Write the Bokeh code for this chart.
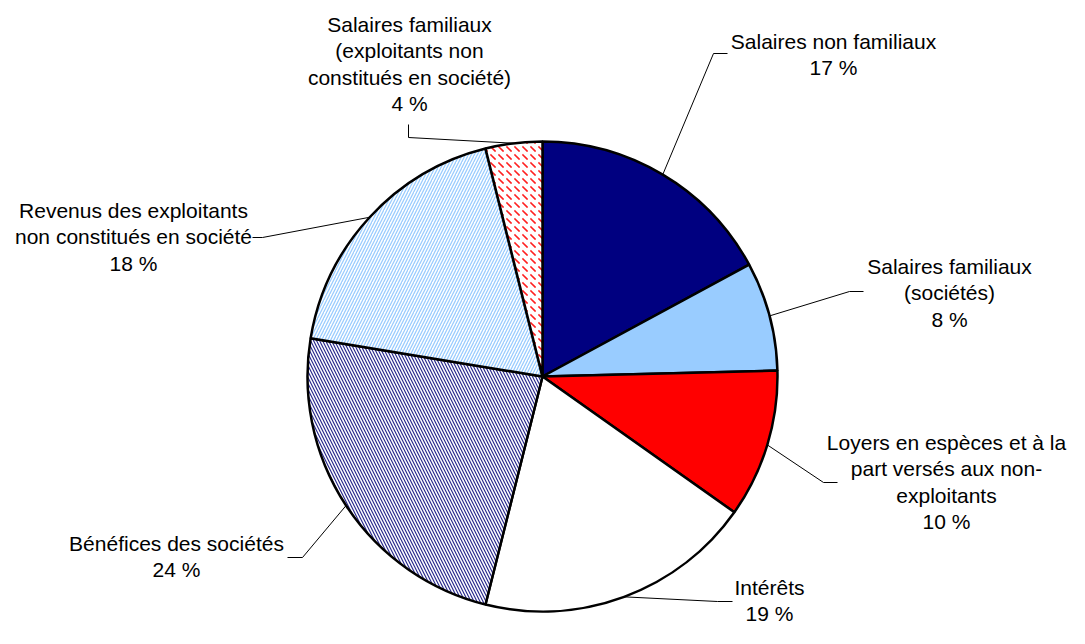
import math
from bokeh.plotting import figure
from bokeh.models import Range1d, ColumnDataSource
from bokeh.core.properties import value
from bokeh.embed import file_html
from bokeh.resources import INLINE

# ---- data (clockwise from 12 o'clock) ----
categories = [
    "Salaires non familiaux",
    "Salaires familiaux\n(sociétés)",
    "Loyers en espèces et à la\npart versés aux non-\nexploitants",
    "Intérêts",
    "Bénéfices des sociétés",
    "Revenus des exploitants\nnon constitués en société",
    "Salaires familiaux\n(exploitants non\nconstitués en société)",
]
shares = [17.1, 7.5, 10.2, 19.1, 23.7, 18.5, 3.9]
pct_labels = ["17 %", "8 %", "10 %", "19 %", "24 %", "18 %", "4 %"]

fill_colors = ["#000080", "#99CCFF", "#FF0000", "#FFFFFF", "#FFFFFF", "#FFFFFF", "#FFFFFF"]
hatch_patterns = [" ", " ", " ", " ", "\\", "/", "`"]
hatch_colors = ["#000080", "#99CCFF", "#FF0000", "#FFFFFF", "#2B2B8F", "#99CCFF", "#FF2020"]
hatch_scales = [6, 6, 6, 6, 6, 6, 8]
hatch_weights = [1.2, 1.2, 1.2, 1.2, 1.2, 1.3, 1.6]

# ---- layout (picture pixel coordinates; y is negated for data space) ----
W, H = 1069, 628
CX, CY, R = 542, 376, 235
FONT = "Liberation Sans"
FS = 21
LH = 26.4

# label block: centre x, first-line centre y
label_pos = [(833, 41), (949, 266), (946, 442), (769, 587), (176, 543), (133, 210), (409, 24)]
# leader: elbow point, end point
leaders = [
    ((713, 53), (727, 53)),
    ((849, 291), (863, 291)),
    ((823, 482), (837, 482)),
    ((717, 601), (732, 601)),
    ((302, 557), (287, 557)),
    ((262, 237), (252, 237)),
    ((408, 137), (408, 124)),
]

p = figure(width=W, height=H, output_backend="svg", toolbar_location=None,
           x_range=Range1d(0, W), y_range=Range1d(-H, 0),
           min_border=0, outline_line_color=None)
p.axis.visible = False
p.grid.visible = False
p.background_fill_color = "white"
p.border_fill_color = "white"

total = sum(shares)
cum = [0.0]
for s in shares:
    cum.append(cum[-1] + s)
starts = [math.pi / 2 - 2 * math.pi * cum[i + 1] / total for i in range(len(shares))]
ends = [math.pi / 2 - 2 * math.pi * cum[i] / total for i in range(len(shares))]

src = ColumnDataSource(dict(start=starts, end=ends, fill=fill_colors,
                            hp=hatch_patterns, hc=hatch_colors, hs=hatch_scales,
                            hw=hatch_weights))
p.wedge(x=CX, y=-CY, radius=R, start_angle="start", end_angle="end",
        fill_color="fill", hatch_pattern="hp", hatch_color="hc",
        hatch_scale="hs", hatch_weight="hw",
        line_color="black", line_width=2.5, source=src)

# leader lines
xs, ys = [], []
for i in range(len(shares)):
    mid = 2 * math.pi * (cum[i] + shares[i] / 2) / total
    ax = CX + R * math.sin(mid)
    ay = CY - R * math.cos(mid)
    (ex, ey), (fx, fy) = leaders[i]
    xs.append([ax, ex, fx])
    ys.append([-ay, -ey, -fy])
p.multi_line(xs, ys, line_color="black", line_width=1)

# labels
tx, ty, tt = [], [], []
for i, cat in enumerate(categories):
    lines = cat.split("\n") + [pct_labels[i]]
    x0, y0 = label_pos[i]
    for k, ln in enumerate(lines):
        tx.append(x0)
        ty.append(-(y0 + k * LH))
        tt.append(ln)
p.text(x=tx, y=ty, text=tt, text_font=value(FONT), text_font_size=f"{FS}px",
       text_align="center", text_baseline="middle", text_color="black")

open("out.html", "w").write(file_html(p, INLINE))
